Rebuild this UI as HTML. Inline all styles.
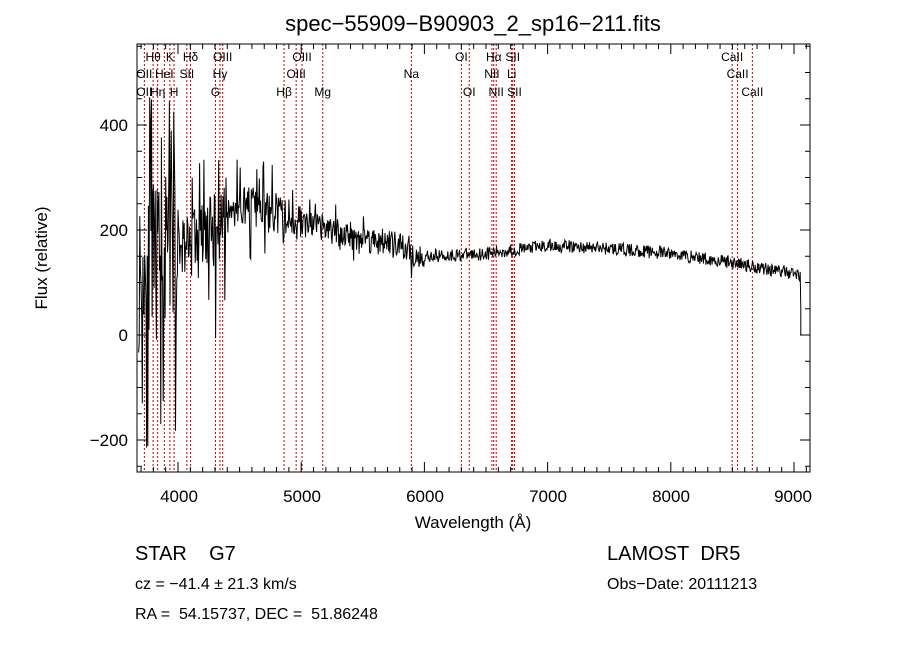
<!DOCTYPE html>
<html><head><meta charset="utf-8"><style>
body{margin:0;background:#fff;width:900px;height:649px;overflow:hidden}
svg{display:block;font-family:"Liberation Sans","DejaVu Sans",sans-serif}
</style></head><body>
<svg id="s" width="900" height="649" viewBox="0 0 900 649">
<text x="473" y="31" font-size="22" text-anchor="middle">spec−55909−B90903_2_sp16−211.fits</text>
<g id="lines"></g>
<polyline id="spec" fill="none" stroke="#000" stroke-width="1"/>
<rect x="137" y="44" width="673" height="428" fill="none" stroke="#000" stroke-width="1"/>
<g id="ticks" stroke="#000"></g>
<g font-size="17" text-anchor="end">
<text x="128" y="131">400</text><text x="128" y="236">200</text><text x="128" y="341">0</text><text x="128" y="446">−200</text>
</g>
<g font-size="17" text-anchor="middle">
<text x="179" y="502">4000</text><text x="302" y="502">5000</text><text x="425" y="502">6000</text><text x="548" y="502">7000</text><text x="671" y="502">8000</text><text x="793" y="502">9000</text>
<text x="473" y="528">Wavelength (Å)</text>
</g>
<text transform="translate(47,258) rotate(-90)" font-size="17" text-anchor="middle">Flux (relative)</text>
<g id="lab" font-size="12"></g>
<text x="135" y="560" font-size="20">STAR&#160;&#160;&#160;&#160;G7</text>
<text x="135" y="589" font-size="16">cz = −41.4 ± 21.3 km/s</text>
<text x="135" y="619" font-size="16">RA =&#160;&#160;54.15737, DEC =&#160;&#160;51.86248</text>
<text x="607" y="560" font-size="20">LAMOST&#160;&#160;DR5</text>
<text x="607" y="589" font-size="16">Obs−Date: 20111213</text>
</svg>
<script>
function X(l){return 178+(l-4000)*0.1232}
function Y(f){return 335-f*0.525}
var NS="http://www.w3.org/2000/svg";
function el(p,t,a,txt){var e=document.createElementNS(NS,t);for(var k in a)e.setAttribute(k,a[k]);if(txt)e.textContent=txt;p.appendChild(e);return e}
var L=[3727,3798,3835,3889,3934,3968,4072,4102,4304,4341,4363,4861,4959,5007,5175,5894,6300,6364,6548,6563,6583,6708,6717,6731,8498,8542,8662];
var g=document.getElementById('lines');
L.forEach(function(l){el(g,'line',{x1:X(l),x2:X(l),y1:44,y2:472,stroke:'#c00000','stroke-dasharray':'2,2','stroke-width':1})});
var tk=document.getElementById('ticks');
for(var l=3700;l<=9100;l+=100){var x=X(l),m=l%1000==0,h=m?10:5;el(tk,'line',{x1:x,x2:x,y1:472,y2:472-h});el(tk,'line',{x1:x,x2:x,y1:44,y2:44+h})}
for(var f=-250;f<=550;f+=50){var y=Y(f),m=f%200==0,h=m?10:5;if(y<44||y>472)continue;el(tk,'line',{x1:137,x2:137+h,y1:y,y2:y});el(tk,'line',{x1:810,x2:810-h,y1:y,y2:y})}
var lab=[["Hθ",3798,61],["K",3934,61],["Hδ",4102,61],["OIII",4363,61],["OIII",5007,61],["OI",6300,61],["Hα",6563,61],["SII",6717,61],["CaII",8498,61],
["OII",3727,78],["HeI",3889,78],["SII",4072,78],["Hγ",4341,78],["OIII",4959,78],["Na",5894,78],["NII",6548,78],["Li",6708,78],["CaII",8542,78],
["OII",3727,96],["Hη",3835,96],["H",3968,96],["G",4304,96],["Hβ",4861,96],["Mg",5175,96],["OI",6364,96],["NII",6583,96],["SII",6731,96],["CaII",8662,96]];
var lg=document.getElementById('lab');
lab.forEach(function(a){el(lg,'text',{x:X(a[1]),y:a[2],'text-anchor':'middle'},a[0])});
var seed=11;function r(){seed=(seed*16807)%2147483647;return seed/2147483647}
function cont(l){var P=[[3700,120],[4000,170],[4300,200],[4500,250],[4700,235],[5000,215],[5300,195],[5700,175],[6000,150],[6500,155],[7000,170],[7500,165],[8000,155],[8500,138],[9050,115]];
for(var i=0;i<P.length-1;i++)if(l<=P[i+1][0]){var t=(l-P[i][0])/(P[i+1][0]-P[i][0]);return P[i][1]+t*(P[i+1][1]-P[i][1])}return 115}
var pts=[];
for(var l=3680;l<=9050;l+=5){var c=cont(l),n,u=r();
if(l<4000)n=(u-0.5)*(r()<0.4?700:300);
else if(l<4400)n=(u-0.5)*(r()<0.15?420:140);
else if(l<5000)n=(u-0.5)*(r()<0.15?200:80);
else if(l<6000)n=(u-0.5)*(r()<0.1?110:55);
else n=(u-0.5)*25;
var f=c+n;if(Math.abs(l-5894)<4)f-=60;
var y=Math.max(45,Math.min(471,Y(f)));pts.push(X(l).toFixed(1)+","+y.toFixed(1))}
pts.push(X(9055).toFixed(1)+","+Y(50));pts.push(X(9055).toFixed(1)+","+Y(0));
document.getElementById('spec').setAttribute('points',pts.join(' '));
</script>
</body></html>
